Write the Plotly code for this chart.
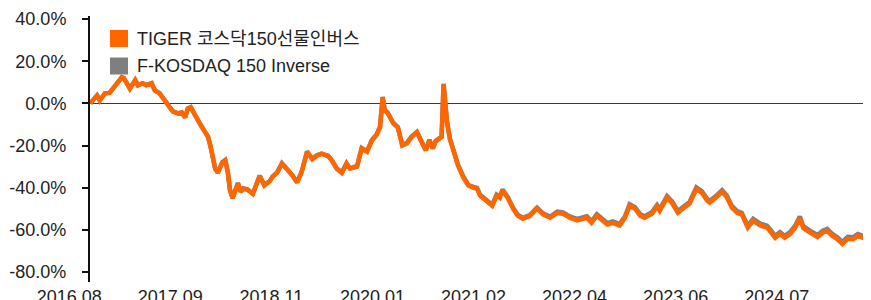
import pandas as pd
import plotly.graph_objects as go

dates = [
    "2016-08-10", "2016-08-20", "2016-09-07", "2016-09-18", "2016-10-09", "2016-10-28", "2016-11-19", "2016-12-02",
    "2016-12-17", "2016-12-25", "2017-01-08", "2017-01-19", "2017-02-10", "2017-02-21", "2017-03-12", "2017-03-27",
    "2017-04-18", "2017-05-01", "2017-05-20", "2017-06-11", "2017-06-22", "2017-07-13", "2017-08-04", "2017-08-19",
    "2017-09-02", "2017-09-13", "2017-09-25", "2017-10-12", "2017-11-03", "2017-11-22", "2017-12-05", "2017-12-16",
    "2017-12-24", "2018-01-03", "2018-01-14", "2018-02-01", "2018-02-13", "2018-02-24", "2018-03-04", "2018-03-15",
    "2018-04-06", "2018-04-17", "2018-04-28", "2018-05-15", "2018-06-06", "2018-06-17", "2018-07-04", "2018-07-23",
    "2018-08-14", "2018-08-25", "2018-09-13", "2018-10-03", "2018-10-22", "2018-11-13", "2018-12-04", "2018-12-23",
    "2019-01-14", "2019-02-04", "2019-02-23", "2019-03-14", "2019-04-09", "2019-04-24", "2019-05-15", "2019-06-05",
    "2019-06-24", "2019-07-08", "2019-08-06", "2019-08-25", "2019-09-16", "2019-10-06", "2019-10-25", "2019-11-08",
    "2019-11-19", "2019-11-27", "2019-12-10", "2020-01-01", "2020-01-20", "2020-02-07", "2020-02-26", "2020-03-16",
    "2020-04-07", "2020-04-26", "2020-05-13", "2020-05-28", "2020-06-11", "2020-06-23", "2020-07-10", "2020-07-17",
    "2020-07-25", "2020-08-08", "2020-08-20", "2020-09-03", "2020-09-22", "2020-10-13", "2020-11-03", "2020-11-22",
    "2020-12-09", "2020-12-21", "2021-01-11", "2021-02-02", "2021-02-09", "2021-02-27", "2021-03-12", "2021-03-23",
    "2021-04-14", "2021-05-05", "2021-05-24", "2021-06-14", "2021-07-13", "2021-08-11", "2021-09-06", "2021-10-04",
    "2021-11-02", "2021-11-25", "2021-12-23", "2022-01-22", "2022-02-16", "2022-03-03", "2022-03-22", "2022-04-13",
    "2022-05-07", "2022-05-26", "2022-06-17", "2022-07-15", "2022-08-06", "2022-08-25", "2022-09-16", "2022-10-07",
    "2022-10-25", "2022-11-24", "2022-12-15", "2022-12-26", "2023-01-25", "2023-02-15", "2023-03-10", "2023-04-01",
    "2023-04-27", "2023-05-25", "2023-06-16", "2023-07-07", "2023-07-18", "2023-08-09", "2023-09-07", "2023-09-26",
    "2023-10-17", "2023-11-08", "2023-11-27", "2023-12-21", "2024-01-12", "2024-02-10", "2024-03-09", "2024-03-20",
    "2024-04-11", "2024-05-01", "2024-05-20", "2024-06-11", "2024-07-02", "2024-07-21", "2024-08-04", "2024-09-02",
    "2024-10-01", "2024-10-23", "2024-11-10", "2024-12-01", "2024-12-20", "2025-01-11", "2025-02-02", "2025-02-24",
    "2025-03-15", "2025-04-06", "2025-05-08",
]

tiger_etf = [
    0.0, 1.5, 3.8, 1.4, 4.8, 5.0, 8.6, 10.0, 12.4, 12.0, 8.6, 7.0, 11.0, 8.6, 9.5, 8.6,
    9.5, 6.2, 4.8, 1.4, 0.0, -3.8, -4.8, -4.3, -6.7, -2.5, -1.9, -5.7, -10.0, -13.5, -16.0, -21.0,
    -25.0, -31.0, -33.0, -28.0, -27.0, -33.0, -41.0, -45.0, -38.0, -42.0, -40.5, -41.0, -43.0, -40.0, -34.5, -39.0,
    -37.0, -35.0, -33.0, -28.6, -31.0, -34.0, -37.6, -32.5, -23.0, -26.5, -24.8, -24.0, -25.0, -27.0, -31.0, -33.0,
    -28.6, -31.0, -30.0, -21.5, -23.0, -17.6, -15.0, -11.4, 2.8, -3.3, -4.8, -9.5, -11.5, -20.0, -19.0, -16.0,
    -13.8, -18.6, -22.4, -17.6, -21.5, -18.0, -16.5, -16.0, 9.0, -9.0, -17.0, -23.0, -29.5, -35.0, -39.0, -40.0,
    -40.5, -43.8, -46.0, -47.6, -48.6, -43.8, -44.8, -41.4, -45.0, -50.0, -53.3, -54.8, -53.5, -50.0, -52.8, -54.3,
    -52.0, -52.4, -54.3, -55.5, -54.8, -54.3, -56.7, -53.3, -55.7, -57.5, -56.7, -58.0, -54.3, -48.6, -50.0, -53.3,
    -54.3, -52.4, -49.0, -51.0, -44.8, -47.4, -51.9, -50.0, -47.6, -40.7, -42.4, -46.0, -47.1, -45.2, -42.0, -44.5,
    -49.5, -52.0, -52.8, -59.0, -55.7, -58.0, -59.0, -60.5, -63.8, -62.0, -63.8, -62.0, -59.0, -54.6, -59.2, -61.4,
    -63.4, -61.4, -60.5, -62.9, -64.3, -66.7, -64.3, -64.5, -62.9, -63.8, -64.5,
]

kosdaq_index = [
    0.0, 1.5, 3.8, 1.4, 4.8, 5.0, 8.6, 10.0, 12.4, 12.0, 8.7, 7.1, 11.1, 8.7, 9.6, 8.7,
    9.6, 6.3, 4.9, 1.5, 0.1, -3.7, -4.7, -4.2, -6.6, -2.4, -1.8, -5.6, -9.9, -13.4, -15.9, -20.9,
    -24.9, -30.9, -32.9, -27.9, -26.9, -32.9, -40.9, -44.9, -37.8, -41.8, -40.3, -40.8, -42.8, -39.8, -34.3, -38.8,
    -36.8, -34.8, -32.8, -28.4, -30.8, -33.8, -37.4, -32.3, -22.8, -26.3, -24.6, -23.8, -24.8, -26.8, -30.8, -32.8,
    -28.4, -30.8, -29.7, -21.2, -22.7, -17.3, -14.7, -11.1, 3.1, -3.0, -4.5, -9.2, -11.2, -19.7, -18.7, -15.7,
    -13.5, -18.3, -22.1, -17.3, -21.2, -17.7, -16.2, -15.7, 9.3, -8.7, -16.7, -22.6, -29.1, -34.6, -38.6, -39.6,
    -40.1, -43.4, -45.5, -47.1, -48.1, -43.3, -44.3, -40.9, -44.5, -49.5, -52.8, -54.3, -53.0, -49.5, -52.3, -53.7,
    -51.4, -51.8, -53.7, -54.8, -54.1, -53.6, -56.0, -52.6, -55.0, -56.8, -56.0, -57.3, -53.6, -47.9, -49.3, -52.6,
    -53.6, -51.7, -48.3, -50.3, -44.0, -46.6, -51.1, -49.2, -46.8, -39.9, -41.6, -45.2, -46.3, -44.4, -41.2, -43.7,
    -48.7, -51.2, -52.0, -58.1, -54.8, -57.1, -58.1, -59.6, -62.9, -61.1, -62.9, -61.1, -58.1, -53.7, -58.3, -60.5,
    -62.5, -60.5, -59.6, -62.0, -63.4, -65.8, -63.4, -63.6, -62.0, -62.9, -63.6,
]

tick_labels = ["2016.08", "2017.09", "2018.11", "2020.01", "2021.02", "2022.04", "2023.06", "2024.07"]
y_ticks = [-80, -60, -40, -20, 0, 20, 40]
y_tick_labels = ["-80.0%", "-60.0%", "-40.0%", "-20.0%", "0.0%", "20.0%", "40.0%"]

name_tiger = "TIGER 코스닥150선물인버스"
name_index = "F-KOSDAQ 150 Inverse"

ORANGE = "#FF6600"
GRAY = "#7F7F7F"
FONT = "Liberation Sans, Arial, Noto Sans CJK KR, sans-serif"

# the page body has an 8px margin, so the figure is laid out 8px in from the window
OFF = 8
W, H = 871 - OFF, 300 - OFF
ML, MR, MT, MB = 90 - OFF, 0, 16 - OFF, (300 - OFF) - (282 - OFF)
PW, PH = W - ML - MR, H - MT - MB

x = pd.to_datetime(dates)
start, end = x[0], x[-1]
span = end - start
# Excel-style fixed label interval along the category axis
tick_pos = [start + span * (i * 101.1 / 781.0) for i in range(len(tick_labels))]

fig = go.Figure()
fig.add_trace(go.Scatter(x=x, y=kosdaq_index, mode="lines", line=dict(color=GRAY, width=4.5),
                         name=name_index, showlegend=False, hoverinfo="skip"))
fig.add_trace(go.Scatter(x=x, y=tiger_etf, mode="lines", line=dict(color=ORANGE, width=4.5),
                         name=name_tiger, showlegend=False))


def px_x(p):
    return (p - OFF - ML) / PW


def px_y(p):
    return 1 - (p - OFF - MT) / PH


# legend drawn as square swatches + text
legend_items = [(name_tiger, ORANGE, 38.5), (name_index, GRAY, 66.0)]
for label, color, cy in legend_items:
    fig.add_shape(type="rect", xref="paper", yref="paper",
                  x0=px_x(110), x1=px_x(128), y0=px_y(cy - 8.5), y1=px_y(cy + 8.5),
                  fillcolor=color, line=dict(width=0), layer="above")
    fig.add_annotation(xref="paper", yref="paper", x=px_x(135), y=px_y(cy),
                       xanchor="left", yanchor="middle", showarrow=False, text=label,
                       font=dict(size=18, color="#222222"))

fig.update_layout(
    width=W, height=H,
    margin=dict(l=ML, r=MR, t=MT, b=MB, autoexpand=False),
    paper_bgcolor="white", plot_bgcolor="white",
    font=dict(family=FONT, size=18, color="#222222"),
    showlegend=False,
    xaxis=dict(
        type="date", automargin=False,
        range=[start - pd.Timedelta(days=1), end],
        showgrid=False, zeroline=False, showline=False,
        tickmode="array", tickvals=tick_pos, ticktext=tick_labels,
        ticks="", ticklabelshift=-21, ticklabelstandoff=2,
        tickfont=dict(size=18, color="#222222"),
    ),
    yaxis=dict(
        automargin=False,
        range=[-84.8, 41.5],
        showgrid=False,
        zeroline=True, zerolinecolor="#3a3a3a", zerolinewidth=1,
        showline=True, linecolor="#111111", linewidth=2,
        ticks="outside", ticklen=6, tickwidth=1.5, tickcolor="#111111",
        tickmode="array", tickvals=y_ticks, ticktext=y_tick_labels,
        ticklabelstandoff=12,
        tickfont=dict(size=18, color="#222222"),
    ),
)

fig.write_html("out.html")
